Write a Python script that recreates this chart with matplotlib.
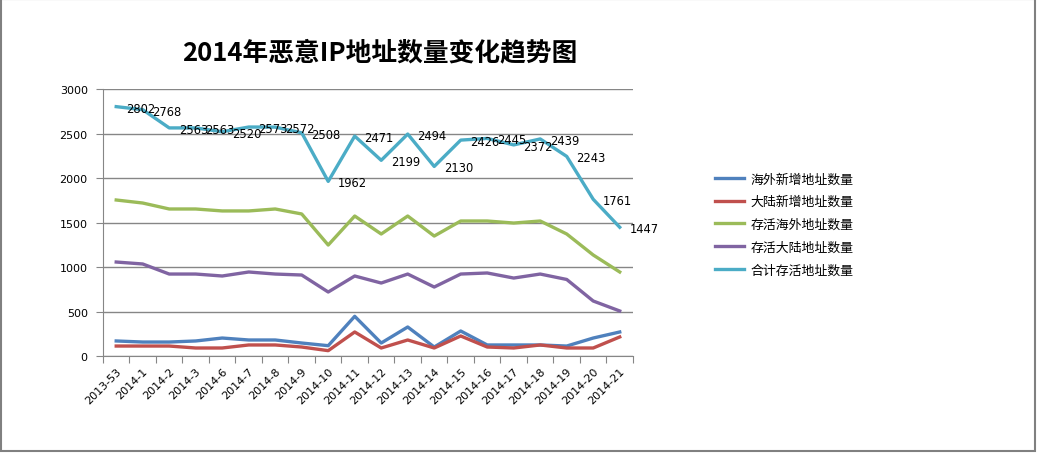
import matplotlib
matplotlib.use("Agg")
import matplotlib.pyplot as plt
from matplotlib.patches import Rectangle

plt.rcParams['font.family'] = ['Noto Sans CJK SC', 'DejaVu Sans']

weeks = ['2013-53', '2014-1', '2014-2', '2014-3', '2014-6', '2014-7', '2014-8',
         '2014-9', '2014-10', '2014-11', '2014-12', '2014-13', '2014-14',
         '2014-15', '2014-16', '2014-17', '2014-18', '2014-19', '2014-20', '2014-21']

overseas_new = [169, 157, 157, 169, 202, 180, 180, 146, 116, 446, 146, 326, 101,
                281, 124, 124, 124, 112, 202, 270]
mainland_new = [112, 112, 112, 90, 90, 124, 124, 101, 60, 270, 90, 180, 90,
                225, 101, 90, 124, 90, 90, 214]
overseas_alive = [1753, 1719, 1652, 1652, 1630, 1630, 1652, 1596, 1247, 1573,
                  1371, 1573, 1348, 1517, 1517, 1494, 1517, 1371, 1135, 944]
mainland_alive = [1056, 1034, 921, 921, 899, 944, 921, 910, 719, 899, 820, 921,
                  775, 921, 933, 876, 921, 860, 618, 506]
total_alive = [2802, 2768, 2563, 2563, 2520, 2573, 2572, 2508, 1962, 2471, 2199,
               2494, 2130, 2426, 2445, 2372, 2439, 2243, 1761, 1447]

series = [
    ('海外新增地址数量', overseas_new, '#4F81BD'),
    ('大陆新增地址数量', mainland_new, '#C0504D'),
    ('存活海外地址数量', overseas_alive, '#9BBB59'),
    ('存活大陆地址数量', mainland_alive, '#8064A2'),
    ('合计存活地址数量', total_alive, '#4BACC6'),
]

fig = plt.figure(figsize=(10.38, 4.6), dpi=100)
ax = fig.add_axes([0.0992, 0.2239, 0.5106, 0.5804])

x = list(range(len(weeks)))
for name, vals, color in series:
    ax.plot(x, vals, color=color, lw=2.4, label=name, solid_joinstyle='round')

# data labels for the total line, to the right of each point
for xi, v in zip(x, total_alive):
    ax.annotate(str(v), (xi, v), xytext=(7, -1), textcoords='offset points',
                ha='left', va='center', fontsize=8.3, family='DejaVu Sans',
                color='black')

ax.set_ylim(0, 3000)
ax.set_xlim(-0.5, len(weeks) - 0.5)
ax.set_yticks(range(0, 3001, 500))
ax.yaxis.grid(True, color='#868686', lw=1)
ax.set_axisbelow(True)
ax.tick_params(axis='y', length=5, color='#868686', labelsize=8, pad=6)
for lbl in ax.get_yticklabels():
    lbl.set_family('DejaVu Sans')

ax.set_xticks([i + 0.5 for i in range(-1, len(weeks))])
ax.set_xticklabels([])
ax.set_xticks(x, minor=True)
ax.set_xticklabels(weeks, minor=True, rotation=45, ha='right',
                   rotation_mode='anchor', fontsize=8, family='DejaVu Sans')
ax.tick_params(axis='x', which='major', length=5, color='#868686')
ax.tick_params(axis='x', which='minor', length=0, pad=7)

for s in ['top', 'right']:
    ax.spines[s].set_visible(False)
for s in ['left', 'bottom']:
    ax.spines[s].set_color('#868686')

fig.text(0.366, 0.885, '2014年恶意IP地址数量变化趋势图', ha='center', va='center',
         fontsize=18.5, fontweight='bold')

ax.legend(loc='center left', bbox_to_anchor=(0.678, 0.51),
          bbox_transform=fig.transFigure, frameon=False, fontsize=9.3,
          handlelength=2.2, labelspacing=0.75, handletextpad=0.5)

fig.patches.append(Rectangle((0.0005, 0.0174), 0.9965, 0.982,
                             transform=fig.transFigure, fill=False,
                             edgecolor='#808080', lw=1.5))

fig.savefig('out.png', dpi=100)
